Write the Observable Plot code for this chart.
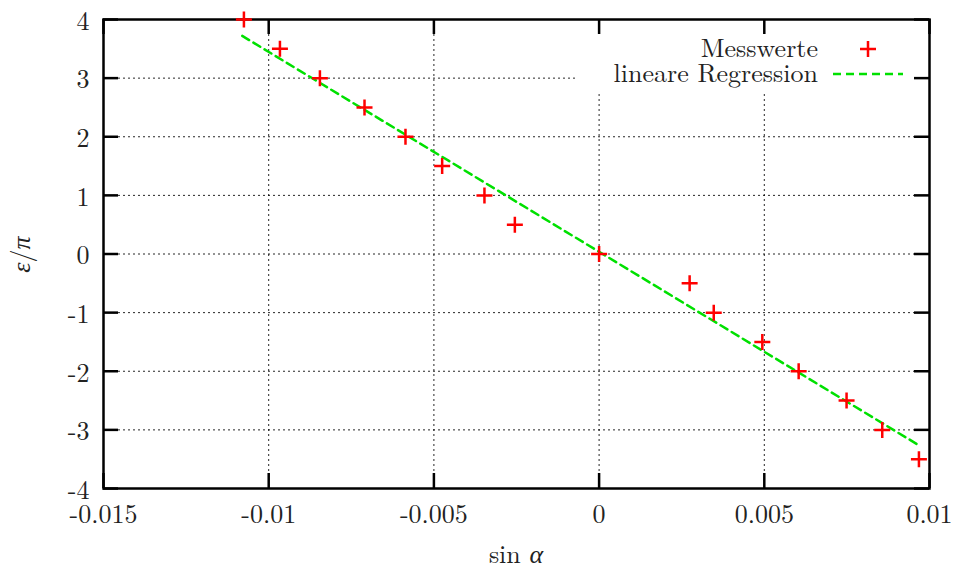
<!DOCTYPE html>
<html><head><meta charset="utf-8">
<script src="https://cdn.jsdelivr.net/npm/d3@7"></script>
<script src="https://cdn.jsdelivr.net/npm/@observablehq/plot@0.6"></script>
<style>
html,body{margin:0;padding:0;background:#fff}
#chart svg{display:block}
#chart svg, #chart svg text, #chart svg tspan{font-family:"Latin Modern Roman","Liberation Serif",serif !important}
</style>
</head><body><div id="chart"></div>
<script>
// ---- data ----
const sinAlpha = [-0.01075, -0.00966, -0.00845, -0.00710, -0.00586, -0.00475, -0.00347, -0.00255,
                  0, 0.00274, 0.00347, 0.00494, 0.00604, 0.00749, 0.00857, 0.00968];
const epsPi    = [4, 3.5, 3, 2.5, 2, 1.5, 1, 0.5, 0, -0.5, -1, -1.5, -2, -2.5, -3, -3.5];
const fitX = [-0.0108, 0.0097];   // regression line end points
const fitY = [3.72, -3.27];
const xTicks = [-0.015, -0.01, -0.005, 0, 0.005, 0.01];
const xTickLabels = ["-0.015", "-0.01", "-0.005", "0", "0.005", "0.01"];
const yTicks = [-4, -3, -2, -1, 0, 1, 2, 3, 4];
const yTickLabels = ["-4", "-3", "-2", "-1", "0", "1", "2", "3", "4"];
const seriesNames = ["Messwerte", "lineare Regression"];
const xLabel = ["sin ", "α"];
const yLabel = ["ε", "/", "π"];

// ---- styling ----
const FS = 26;
const RED = "#ff0000", GREEN = "#00e000";
const TICK = 15;
const W = 961, H = 572, mL = 103, mR = 32, mT = 19, mB = 84;
const pw = W - mL - mR, ph = H - mT - mB;

const pts = sinAlpha.map((x, i) => ({x, y: epsPi[i]}));
const fit = fitX.map((x, i) => ({x, y: fitY[i]}));

const plusSymbol = {
  draw(ctx, size) {
    const r = Math.sqrt(size / Math.PI);
    ctx.moveTo(-r, 0); ctx.lineTo(r, 0);
    ctx.moveTo(0, -r); ctx.lineTo(0, r);
  }
};

function dimsOf(args) {
  return args.find(a => a && typeof a === "object" && "marginLeft" in a && "width" in a);
}

// white key box (opaque legend) hides the grid under it
function keyBox(...args) {
  const d = dimsOf(args);
  const right = d.width - d.marginRight, top = d.marginTop;
  const g = d3.create("svg:g");
  g.append("rect").attr("x", right - 351).attr("y", top + 1.5)
    .attr("width", 349).attr("height", 72).attr("fill", "white");
  return g.node();
}

function keyContent(...args) {
  const d = dimsOf(args);
  const right = d.width - d.marginRight, top = d.marginTop;
  const g = d3.create("svg:g").attr("font-size", FS).attr("fill", "#222");
  const rows = [top + 30, top + 55];
  g.append("text").attr("x", right - 111).attr("y", rows[0] + 8).attr("text-anchor", "end").text(seriesNames[0]);
  g.append("text").attr("x", right - 111).attr("y", rows[1] + 8).attr("text-anchor", "end").text(seriesNames[1]);
  const px = right - 61, py = rows[0], r = 8;
  g.append("path").attr("d", `M${px - r},${py}H${px + r}M${px},${py - r}V${py + r}`)
    .attr("stroke", RED).attr("stroke-width", 2.5).attr("fill", "none");
  g.append("line").attr("x1", right - 96).attr("x2", right - 26).attr("y1", rows[1]).attr("y2", rows[1])
    .attr("stroke", GREEN).attr("stroke-width", 2.5).attr("stroke-dasharray", "8,5");
  return g.node();
}

function axisLabels(...args) {
  const d = dimsOf(args);
  const cx = d.marginLeft + (d.width - d.marginLeft - d.marginRight) / 2;
  const cy = d.marginTop + (d.height - d.marginTop - d.marginBottom) / 2;
  const g = d3.create("svg:g").attr("font-size", FS).attr("fill", "#222");
  const xt = g.append("text").attr("x", cx).attr("y", d.height - 9).attr("text-anchor", "middle");
  xt.append("tspan").text(xLabel[0]);
  xt.append("tspan").attr("font-style", "italic").text(xLabel[1]);
  const yt = g.append("text").attr("transform", `translate(30,${cy + 1}) rotate(-90)`).attr("text-anchor", "middle");
  yt.append("tspan").attr("font-style", "italic").text(yLabel[0]);
  yt.append("tspan").text(yLabel[1]);
  yt.append("tspan").attr("font-style", "italic").text(yLabel[2]);
  return g.node();
}

const chart = Plot.plot({
  width: W, height: H,
  marginLeft: mL, marginRight: mR, marginTop: mT, marginBottom: mB,
  style: {fontSize: FS + "px", background: "white", color: "#222", overflow: "visible"},
  x: {domain: [-0.015, 0.01], label: null},
  y: {domain: [-4, 4], label: null},
  marks: [
    Plot.ruleY(yTicks.slice(1, -1), {y: d => d, stroke: "#000", strokeWidth: 1, strokeDasharray: "2,3", strokeOpacity: 0.85}),
    Plot.ruleX(xTicks.slice(1, -1), {x: d => d, stroke: "#000", strokeWidth: 1, strokeDasharray: "2,3", strokeOpacity: 0.85}),
    keyBox,
    Plot.frame({stroke: "#000", strokeWidth: 2.5}),
    Plot.tickX(xTicks, {x: d => d, insetTop: ph - TICK, stroke: "#000", strokeWidth: 2.5}),
    Plot.tickX(xTicks, {x: d => d, insetBottom: ph - TICK, stroke: "#000", strokeWidth: 2.5}),
    Plot.tickY(yTicks, {y: d => d, insetRight: pw - TICK, stroke: "#000", strokeWidth: 2.5}),
    Plot.tickY(yTicks, {y: d => d, insetLeft: pw - TICK, stroke: "#000", strokeWidth: 2.5}),
    Plot.axisX(xTicks, {anchor: "bottom", tickSize: 0, tickPadding: 16, fontSize: FS,
      tickFormat: d => xTickLabels[xTicks.indexOf(d)], label: null}),
    Plot.axisY(yTicks, {anchor: "left", tickSize: 0, tickPadding: 14, fontSize: FS, dy: 2,
      tickFormat: d => yTickLabels[yTicks.indexOf(d)], label: null}),
    Plot.line(fit, {x: "x", y: "y", stroke: GREEN, strokeWidth: 2.5, strokeDasharray: "8,5"}),
    Plot.dot(pts, {x: "x", y: "y", symbol: plusSymbol, r: 8, stroke: RED, strokeWidth: 2.5, fill: "none"}),
    keyContent,
    axisLabels
  ]
});
document.getElementById("chart").appendChild(chart);
</script>
</body></html>
